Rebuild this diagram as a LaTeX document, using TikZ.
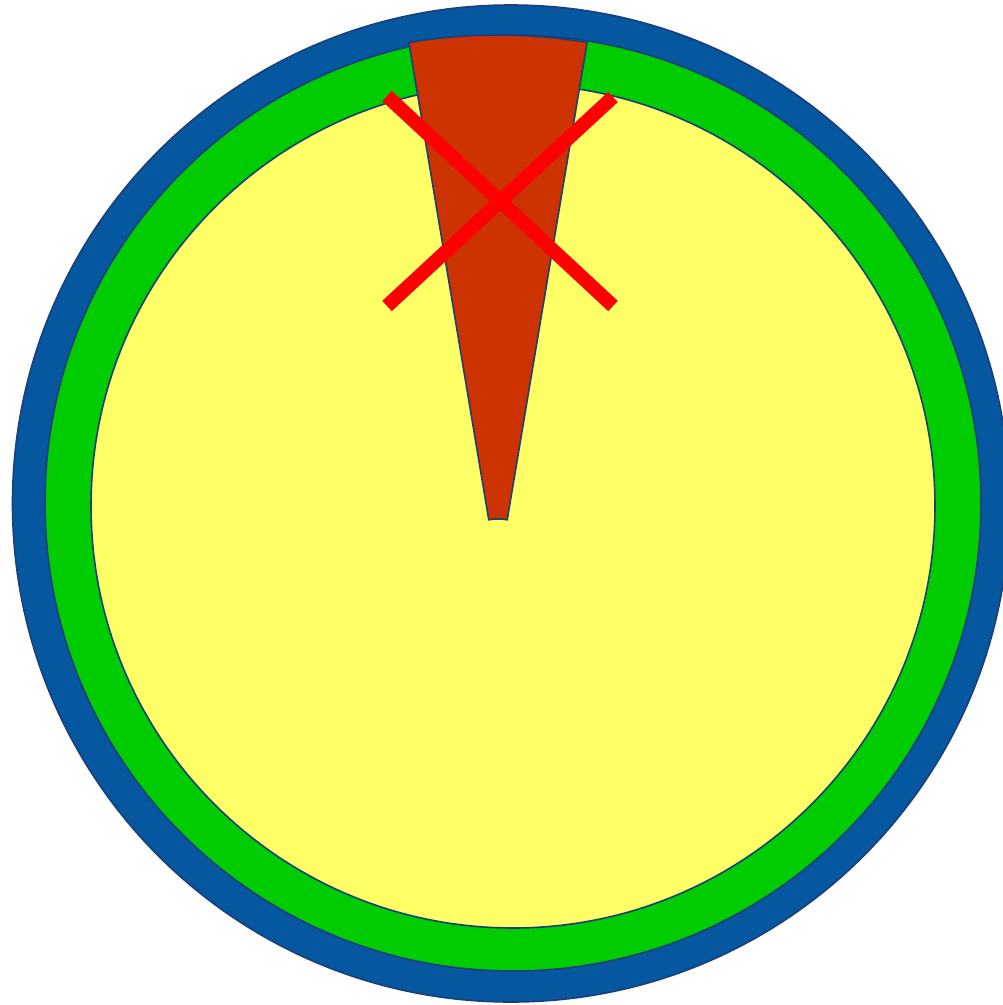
\documentclass[tikz,border=0pt]{standalone}
\usetikzlibrary{calc}
\definecolor{ringblue}{HTML}{0557A0}
\definecolor{ringgreen}{HTML}{00CC00}
\definecolor{coreyellow}{HTML}{FFFF66}
\definecolor{wedgered}{HTML}{CC3300}
\definecolor{edgeblue}{HTML}{1A3F7A}
\definecolor{crossred}{HTML}{FF0000}
\tikzset{
  disc/.style={draw=edgeblue, line width=1.6pt},
  crossline/.style={draw=crossred, line width=14pt, line cap=butt}
}
\begin{document}
\begin{tikzpicture}[x=1pt,y=-1pt]
\useasboundingbox (0,0) rectangle (1003,1005);
\begin{scope}
\clip (0,0) rectangle (1003,1005);
\fill[white] (0,0) rectangle (1003,1005);
\coordinate (c) at (511,503.5);
\path[disc, fill=ringblue] (c) circle[radius=498.5];
\path[disc, fill=ringgreen] (513,503) circle[radius=468];
\path[disc, fill=coreyellow] (513,506) circle[radius=422];
\coordinate (apex) at (498,575);
\path[disc, fill=wedgered] ($(apex)+(260.5:540)$) arc[start angle=260.5, end angle=279.5, radius=540]
  -- ($(apex)+(279.5:56)$) arc[start angle=279.5, end angle=260.5, radius=56] -- cycle;
\coordinate (x1) at (387,96);
\coordinate (x2) at (613,306);
\coordinate (x3) at (613,97);
\coordinate (x4) at (387,306);
\draw[crossline] (x1) -- (x2);
\draw[crossline] (x3) -- (x4);
\end{scope}
\end{tikzpicture}
\end{document}
